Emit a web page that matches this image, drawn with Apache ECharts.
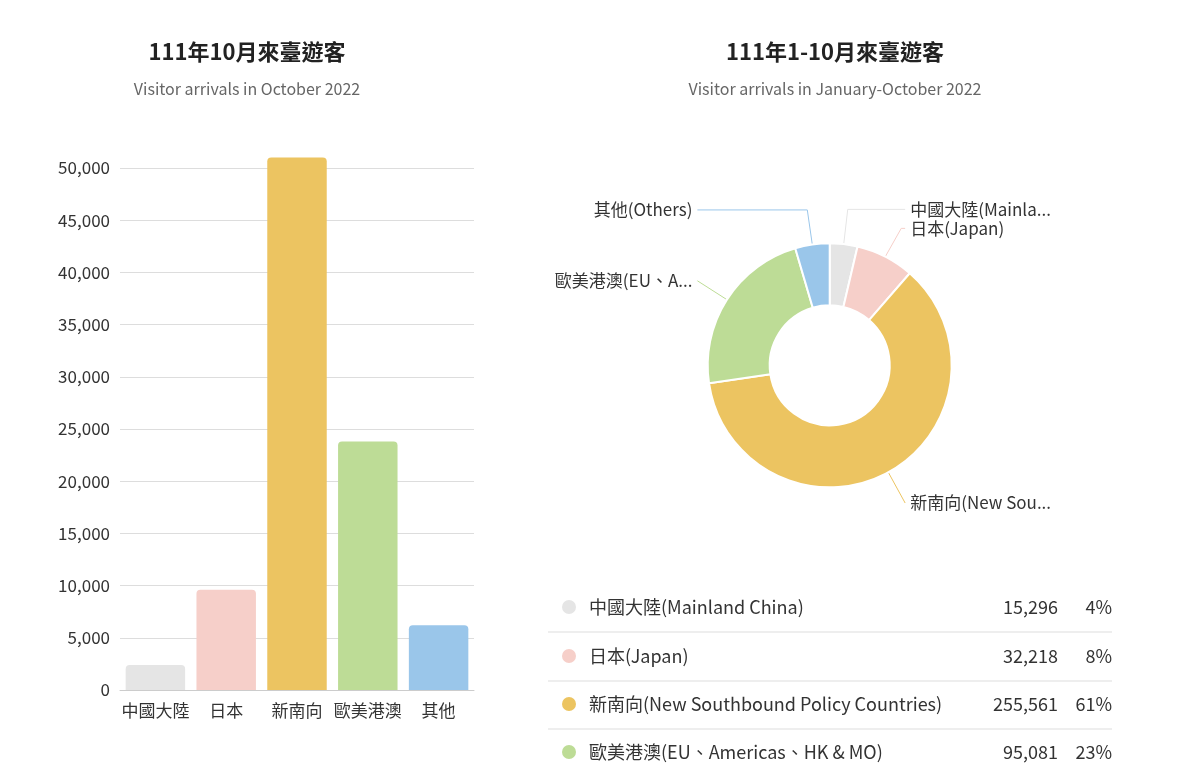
<!DOCTYPE html>
<html><head><meta charset="utf-8">
<script src="https://cdn.jsdelivr.net/npm/echarts@6/dist/echarts.min.js"></script>
<style>html,body{margin:0;background:#fff}#c{width:1200px;height:774px}</style>
</head><body><div id="c"></div>
<script>
const barCategories = ['中國大陸','日本','新南向','歐美港澳','其他'];
const barValues = [2400, 9600, 51000, 23800, 6200];
const colors = ['#e5e5e5','#f6cfc9','#ecc461','#bddc96','#9ac6ea'];
const pieNames = ['中國大陸(Mainland China)','日本(Japan)','新南向(New Southbound Policy Countries)','歐美港澳(EU、Americas、HK & MO)','其他(Others)'];
const pieValues = [15296, 32218, 255561, 95081, 19000];
const pieShares = ['4%','8%','61%','23%','5%'];
const font = '"Noto Sans CJK TC","Noto Sans",sans-serif';

const chart = echarts.init(document.getElementById('c'));
const graphic = [];
const rowY = [607, 656, 704, 752];
for (let i = 0; i < 4; i++) {
  const y = rowY[i];
  graphic.push({type:'circle', shape:{cx:569, cy:y, r:7}, style:{fill:colors[i]}});
  graphic.push({type:'text', x:589, y:y, style:{text:pieNames[i], font:'18px '+font, fill:'#333', verticalAlign:'middle'}});
  graphic.push({type:'text', x:1058, y:y, style:{text:pieValues[i].toLocaleString('en-US'), font:'18px '+font, fill:'#333', align:'right', verticalAlign:'middle'}});
  graphic.push({type:'text', x:1112, y:y, style:{text:pieShares[i], font:'18px '+font, fill:'#333', align:'right', verticalAlign:'middle'}});
  if (i < 3) graphic.push({type:'line', shape:{x1:548, y1:y+25, x2:1112, y2:y+25}, style:{stroke:'#ddd', lineWidth:1}});
}
chart.setOption({
  textStyle:{fontFamily:font},
  title:[
    {text:'111年10月來臺遊客', subtext:'Visitor arrivals in October 2022', left:242, top:36, textAlign:'center', itemGap:18,
     textStyle:{fontSize:22, fontWeight:'bold', color:'#222'}, subtextStyle:{fontSize:16, color:'#666'}},
    {text:'111年1-10月來臺遊客', subtext:'Visitor arrivals in January-October 2022', left:830, top:36, textAlign:'center', itemGap:18,
     textStyle:{fontSize:22, fontWeight:'bold', color:'#222'}, subtextStyle:{fontSize:16, color:'#666'}}
  ],
  grid:{left:120, top:168, width:354, height:522, containLabel:false},
  xAxis:{type:'category', data:barCategories, axisTick:{show:false},
    axisLine:{lineStyle:{color:'#ccc'}}, axisLabel:{fontSize:17, color:'#333', margin:12, interval:0}},
  yAxis:{type:'value', min:0, max:50000, interval:5000, axisLabel:{fontSize:17, color:'#333', margin:10,
    formatter:v=>v.toLocaleString('en-US')}, splitLine:{lineStyle:{color:'#ddd'}}},
  series:[
    {type:'bar', clip:false, barWidth:'84%', data:barValues.map((v,i)=>({value:v, itemStyle:{color:colors[i], borderRadius:[4,4,0,0]}}))},
    {type:'pie', left:505, right:43, top:0, bottom:0, center:['49.8%','47.2%'], radius:[60,122], startAngle:90,
     data:pieNames.map((n,i)=>({name:n, value:pieValues[i], itemStyle:{color:colors[i]}, labelLine:{lineStyle:{color:colors[i]}}})),
     itemStyle:{borderColor:'#fff', borderWidth:2},
     label:{fontSize:17, color:'#333', alignTo:'labelLine', edgeDistance:0, width:145, overflow:'truncate', ellipsis:'...'},
     labelLine:{length:35, length2:0, lineStyle:{width:1}}}
  ],
  graphic: graphic
});
</script></body></html>
